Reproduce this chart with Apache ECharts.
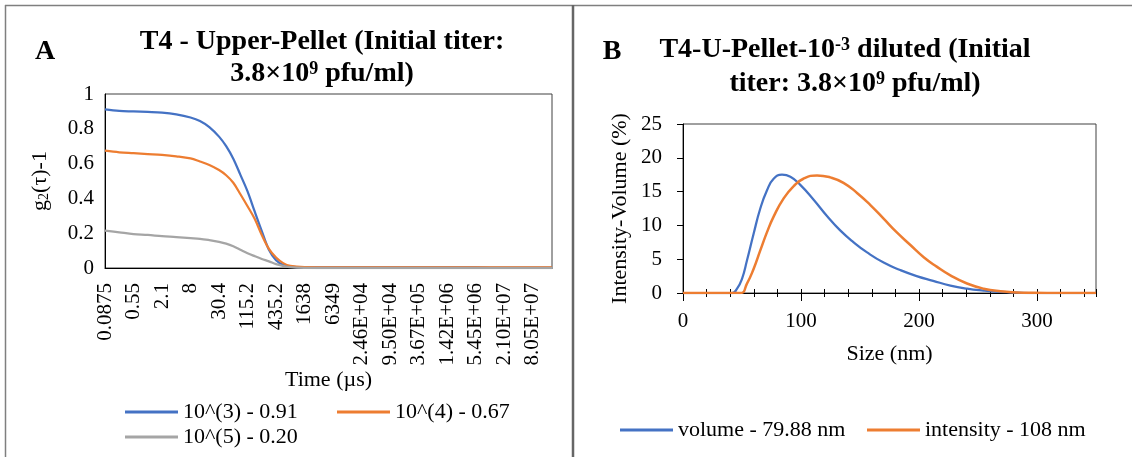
<!DOCTYPE html>
<html>
<head>
<meta charset="utf-8">
<script src="https://cdn.jsdelivr.net/npm/echarts@6.0.0/dist/echarts.min.js"></script>
<style>
html,body{margin:0;padding:0;background:#fff;}
#chart{width:1132px;height:457px;}
</style>
</head>
<body>
<div id="chart"></div>
<script>
// ---------- Panel A data ----------
var timeTickLabels = ['0.0875','0.55','2.1','8','30.4','115.2','435.2','1638','6349','2.46E+04','9.50E+04','3.67E+05','1.42E+06','5.45E+06','2.10E+07','8.05E+07'];
// x positions in units of tick-label index (log-time position)
var timeIndex = [0,0.5,1,1.5,2,2.5,3,3.33,3.66,4,4.25,4.5,4.75,5,5.25,5.5,5.75,6,6.25,6.5,7,8,9,10,11,12,13,14,15,15.68];
var g2_1e3 = [0.912,0.903,0.900,0.897,0.893,0.883,0.865,0.845,0.810,0.755,0.700,0.628,0.535,0.440,0.325,0.212,0.105,0.045,0.018,0.008,0.004,0.003,0.003,0.003,0.003,0.003,0.003,0.002,0.002,0.002];
var g2_1e4 = [0.674,0.665,0.660,0.655,0.650,0.642,0.630,0.612,0.592,0.563,0.533,0.490,0.424,0.355,0.283,0.190,0.110,0.060,0.028,0.012,0.005,0.004,0.004,0.004,0.004,0.004,0.003,0.003,0.003,0.003];
var g2_1e5 = [0.215,0.205,0.195,0.190,0.183,0.178,0.172,0.168,0.160,0.150,0.140,0.125,0.105,0.085,0.068,0.052,0.038,0.022,0.012,0.005,0.001,0.000,0.000,0.000,0.000,0.000,0.000,0.000,0.000,0.000];
var seriesNamesA = ['10^(3) - 0.91','10^(4) - 0.67','10^(5) - 0.20'];

// ---------- Panel B data ----------
var sizeVol = [0,41.5,45.8,50,54.2,59.9,65.5,71.2,76.8,83.9,91,99.4,110.7,122,133,144.6,156,170,184,198,212,226.6,240.7,254.8,269,283,300,350];
var volPct  = [0,0,0.64,2.1,4.8,8.8,12.5,15.2,16.9,17.5,17.2,16.0,13.8,11.4,9.3,7.5,6.0,4.5,3.4,2.5,1.8,1.1,0.64,0.35,0.15,0.05,0,0];
var sizeInt = [0,48.6,54.2,59.9,65.5,71.2,76.8,85.3,93.8,102,113.6,124.9,136,147.5,158.8,170,181,192.7,204,215,226.6,240.7,254.8,269,283,297,320,350];
var intPct  = [0,0,1.4,3.6,6.3,9.0,11.3,14.0,15.8,16.9,17.4,17.1,16.3,14.8,13.0,11.0,9.0,7.1,5.3,3.9,2.6,1.4,0.64,0.25,0.08,0.02,0,0];
var seriesNamesB = ['volume - 79.88 nm','intensity - 108 nm'];

var FONT = 'Liberation Serif';
var blue = '#4472C4', orange = '#ED7D31', gray = '#A5A5A5';
var TICK_FS = 21, NAME_FS = 22, LEG_FS = 22, TITLE_FS = 28, SUP_FS = 18;

function pairs(xs, ys){ return xs.map(function(x,i){ return [x, ys[i]]; }); }

function legendItem(name, left, top){
  return {
    data: [name], left: left, top: top, padding: 0,
    icon: 'rect', itemWidth: 53, itemHeight: 3, itemGap: 5,
    textStyle: {fontFamily: FONT, fontSize: LEG_FS, color: '#000', padding: [0,0,0,0]}
  };
}

var option = {
  animation: false,
  backgroundColor: '#fff',
  grid: [
    {left: 105, top: 94, width: 447, height: 174, show: true, borderColor: '#404040', borderWidth: 1, containLabel: false},
    {left: 683, top: 124, width: 413, height: 169, show: true, borderColor: '#404040', borderWidth: 1, containLabel: false}
  ],
  xAxis: [
    {gridIndex: 0, type: 'value', position: 'bottom', min: 0, max: 15.68, interval: 1,
     name: 'Time (µs)', nameLocation: 'middle', nameGap: 101,
     nameTextStyle: {fontFamily: FONT, fontSize: NAME_FS, color: '#000'},
     axisLine: {show: true, lineStyle: {color: '#000', width: 1}},
     axisTick: {show: false}, splitLine: {show: false},
     axisLabel: {rotate: 90, margin: 15, fontFamily: FONT, fontSize: TICK_FS, color: '#000',
       showMaxLabel: false,
       formatter: function(v){ return Number.isInteger(v) && v < timeTickLabels.length ? timeTickLabels[v] : ''; }}
    },
    {gridIndex: 1, type: 'value', position: 'bottom', min: 0, max: 350, interval: 20,
     axisLine: {show: true, lineStyle: {color: '#000', width: 1}},
     axisTick: {show: true, length: 4, lineStyle: {color: '#000'}},
     axisLabel: {show: false}, splitLine: {show: false}
    },
    {gridIndex: 1, type: 'value', position: 'bottom', min: 0, max: 350, interval: 20,
     axisLine: {show: false},
     axisTick: {show: true, inside: true, length: 4, lineStyle: {color: '#000'}},
     axisLabel: {show: false}, splitLine: {show: false}
    },
    {gridIndex: 1, type: 'value', position: 'bottom', min: 0, max: 350, interval: 100,
     name: 'Size (nm)', nameLocation: 'middle', nameGap: 50,
     nameTextStyle: {fontFamily: FONT, fontSize: NAME_FS, color: '#000'},
     axisLine: {show: false},
     axisTick: {show: true, length: 8, lineStyle: {color: '#000'}},
     axisLabel: {margin: 18, fontFamily: FONT, fontSize: TICK_FS, color: '#000', showMaxLabel: false,
       formatter: function(v){ return v % 100 === 0 ? String(v) : ''; }},
     splitLine: {show: false}
    }
  ],
  yAxis: [
    {gridIndex: 0, type: 'value', min: 0, max: 1, interval: 0.2,
     name: 'g{sub|2}(τ)-1', nameLocation: 'middle', nameGap: 54,
     nameTextStyle: {fontFamily: FONT, fontSize: NAME_FS, color: '#000',
       rich: {sub: {fontFamily: FONT, fontSize: 14, verticalAlign: 'bottom', color: '#000'}}},
     axisLine: {show: true, lineStyle: {color: '#000'}},
     axisTick: {show: false}, splitLine: {show: false},
     axisLabel: {margin: 11, fontFamily: FONT, fontSize: TICK_FS, color: '#000',
       formatter: function(v){ return String(Math.round(v*10)/10); }}
    },
    {gridIndex: 1, type: 'value', min: 0, max: 25, interval: 5,
     name: 'Intensity-Volume (%)', nameLocation: 'middle', nameGap: 52,
     nameTextStyle: {fontFamily: FONT, fontSize: NAME_FS, color: '#000'},
     axisLine: {show: true, lineStyle: {color: '#000'}},
     axisTick: {show: true, length: 6, lineStyle: {color: '#000'}}, splitLine: {show: false},
     axisLabel: {margin: 21, fontFamily: FONT, fontSize: TICK_FS, color: '#000'}
    }
  ],
  legend: [
    legendItem(seriesNamesA[0], 125, 401),
    legendItem(seriesNamesA[1], 337, 401),
    legendItem(seriesNamesA[2], 125, 426),
    legendItem(seriesNamesB[0], 620, 419),
    legendItem(seriesNamesB[1], 867, 419)
  ],
  series: [
    {name: seriesNamesA[0], type: 'line', xAxisIndex: 0, yAxisIndex: 0, data: pairs(timeIndex, g2_1e3),
     showSymbol: false, smooth: 0.35, lineStyle: {color: blue, width: 2.25}, itemStyle: {color: blue}},
    {name: seriesNamesA[1], type: 'line', xAxisIndex: 0, yAxisIndex: 0, data: pairs(timeIndex, g2_1e4),
     showSymbol: false, smooth: 0.35, lineStyle: {color: orange, width: 2.25}, itemStyle: {color: orange}},
    {name: seriesNamesA[2], type: 'line', xAxisIndex: 0, yAxisIndex: 0, data: pairs(timeIndex, g2_1e5),
     showSymbol: false, smooth: 0.35, lineStyle: {color: gray, width: 2.25}, itemStyle: {color: gray}},
    {name: seriesNamesB[0], type: 'line', xAxisIndex: 1, yAxisIndex: 1, data: pairs(sizeVol, volPct),
     showSymbol: false, smooth: 0.5, lineStyle: {color: blue, width: 2.25}, itemStyle: {color: blue}},
    {name: seriesNamesB[1], type: 'line', xAxisIndex: 1, yAxisIndex: 1, data: pairs(sizeInt, intPct),
     showSymbol: false, smooth: 0.5, lineStyle: {color: orange, width: 2.5}, itemStyle: {color: orange}}
  ],
  graphic: [
    {type: 'line', shape: {x1: 5, y1: 5.5, x2: 1132, y2: 5.5}, style: {stroke: '#7f7f7f', lineWidth: 1.5}, silent: true},
    {type: 'line', shape: {x1: 5.5, y1: 5, x2: 5.5, y2: 457}, style: {stroke: '#7f7f7f', lineWidth: 1.5}, silent: true},
    {type: 'line', shape: {x1: 573, y1: 5, x2: 573, y2: 457}, style: {stroke: '#666', lineWidth: 2.5}, silent: true},
    {type: 'text', x: 45, y: 52, style: {text: 'A', fontFamily: FONT, fontSize: 28, fontWeight: 'bold', fill: '#000', align: 'center', verticalAlign: 'middle'}},
    {type: 'text', x: 322, y: 42, style: {text: 'T4 - Upper-Pellet (Initial titer:', fontFamily: FONT, fontSize: TITLE_FS, fontWeight: 'bold', fill: '#000', align: 'center', verticalAlign: 'middle'}},
    {type: 'text', x: 322, y: 74, style: {text: '3.8×10{sup|9} pfu/ml)', fontFamily: FONT, fontSize: TITLE_FS, fontWeight: 'bold', fill: '#000', align: 'center', verticalAlign: 'middle',
      rich: {sup: {fontFamily: FONT, fontSize: SUP_FS, fontWeight: 'bold', verticalAlign: 'top', fill: '#000'}}}},
    {type: 'text', x: 612, y: 52, style: {text: 'B', fontFamily: FONT, fontSize: 28, fontWeight: 'bold', fill: '#000', align: 'center', verticalAlign: 'middle'}},
    {type: 'text', x: 845, y: 50, style: {text: 'T4-U-Pellet-10{sup|-3} diluted (Initial', fontFamily: FONT, fontSize: TITLE_FS, fontWeight: 'bold', fill: '#000', align: 'center', verticalAlign: 'middle',
      rich: {sup: {fontFamily: FONT, fontSize: SUP_FS, fontWeight: 'bold', verticalAlign: 'top', fill: '#000'}}}},
    {type: 'text', x: 855, y: 84, style: {text: 'titer: 3.8×10{sup|9} pfu/ml)', fontFamily: FONT, fontSize: TITLE_FS, fontWeight: 'bold', fill: '#000', align: 'center', verticalAlign: 'middle',
      rich: {sup: {fontFamily: FONT, fontSize: SUP_FS, fontWeight: 'bold', verticalAlign: 'top', fill: '#000'}}}}
  ]
};

var chart = echarts.init(document.getElementById('chart'), null, {renderer: 'canvas'});
chart.setOption(option);
</script>
</body>
</html>
